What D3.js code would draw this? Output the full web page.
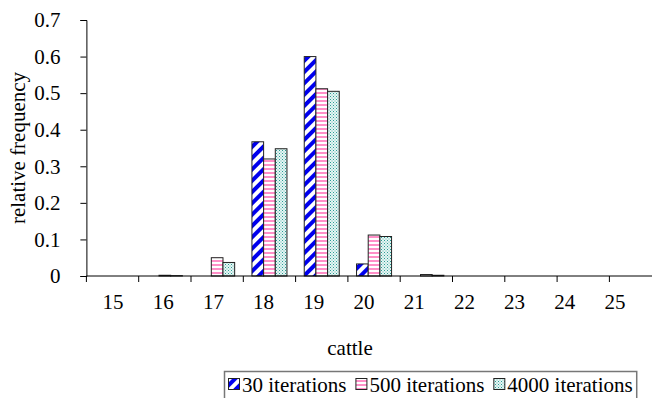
<!DOCTYPE html>
<html>
<head>
<meta charset="utf-8">
<script src="https://cdn.jsdelivr.net/npm/d3@7"></script>
<style>
  html, body { margin: 0; padding: 0; background: #fff; }
  svg { display: block; }
  text { font-family: "Liberation Serif", "DejaVu Serif", serif; }
</style>
</head>
<body>
<svg id="chart" width="652" height="398"></svg>
<script>
// Number of cattle and relative frequency per run length
const categories = ["15", "16", "17", "18", "19", "20", "21", "22", "23", "24", "25"];
const seriesNames = ["30 iterations", "500 iterations", "4000 iterations"];
const iter30   = [0, 0, 0, 0.367, 0.600, 0.033, 0, 0, 0, 0, 0];
const iter500  = [0, 0.002, 0.050, 0.320, 0.512, 0.112, 0.004, 0, 0, 0, 0];
const iter4000 = [0, 0.001, 0.037, 0.348, 0.505, 0.108, 0.002, 0, 0, 0, 0];
const yTicks = [0, 0.1, 0.2, 0.3, 0.4, 0.5, 0.6, 0.7];

const seriesValues = [iter30, iter500, iter4000];
const fills = ["url(#pat30)", "url(#pat500)", "url(#pat4000)"];
const FS = 21;

const svg = d3.select("#chart");
const plotLeft = 86.4, step = 52.3;

// Category bands for the bars and tick marks; label positions on their own point scale
const x = d3.scaleBand().domain(categories).range([plotLeft, plotLeft + step * categories.length]).padding(0);
const xLabel = d3.scalePoint().domain(categories).range([113, 615]);
const xs = d3.scaleBand().domain(d3.range(3)).range([0, x.bandwidth()]).paddingInner(0).paddingOuter(0.74);
const y = d3.scaleLinear().domain([0, 0.7]).range([276, 20]);

// Fill patterns
const defs = svg.append("defs");
const p30 = defs.append("pattern").attr("id", "pat30").attr("patternUnits", "userSpaceOnUse")
  .attr("width", 8).attr("height", 8).attr("patternTransform", "rotate(45)");
p30.append("rect").attr("width", 8).attr("height", 8).attr("fill", "#fff");
p30.append("rect").attr("width", 4).attr("height", 8).attr("fill", "#0000ee");

const p500 = defs.append("pattern").attr("id", "pat500").attr("patternUnits", "userSpaceOnUse")
  .attr("width", 4).attr("height", 4);
p500.append("rect").attr("width", 4).attr("height", 4).attr("fill", "#fff");
p500.append("rect").attr("width", 4).attr("height", 2).attr("fill", "#ff8fc8");

const p4000 = defs.append("pattern").attr("id", "pat4000").attr("patternUnits", "userSpaceOnUse")
  .attr("width", 3).attr("height", 3);
p4000.append("rect").attr("width", 3).attr("height", 3).attr("fill", "#e6f5f3");
p4000.append("rect").attr("x", 0).attr("y", 0).attr("width", 1).attr("height", 1).attr("fill", "#2a9c94");
p4000.append("rect").attr("x", 1.5).attr("y", 1.5).attr("width", 1).attr("height", 1).attr("fill", "#5fb8b0");

// Bars
seriesValues.forEach((vals, si) => {
  svg.append("g").selectAll("rect")
    .data(vals.map((v, i) => ({ cat: categories[i], v })).filter(d => d.v > 0))
    .join("rect")
    .attr("x", d => x(d.cat) + xs(si))
    .attr("y", d => y(d.v))
    .attr("width", xs.bandwidth())
    .attr("height", d => y(0) - y(d.v))
    .attr("fill", fills[si])
    .attr("stroke", "#222")
    .attr("stroke-width", 1);
});

// Y axis
const yAxis = svg.append("g").attr("transform", `translate(${plotLeft},0)`)
  .call(d3.axisLeft(y).tickValues(yTicks).tickSize(6).tickPadding(20).tickFormat(d => d === 0 ? "0" : d3.format(".1f")(d)));
yAxis.attr("font-family", null);
yAxis.select(".domain").attr("stroke", "#000");
yAxis.selectAll(".tick line").attr("stroke", "#000");
yAxis.selectAll("text").attr("font-size", FS).attr("fill", "#000");

// X axis: ticks on category boundaries
const xAxisG = svg.append("g").attr("transform", `translate(0,${y(0)})`);
const bounds = categories.map(c => x(c)).concat([x.range()[1]]);
xAxisG.append("line").attr("x1", plotLeft).attr("x2", x.range()[1]).attr("stroke", "#000");
xAxisG.selectAll("line.tk").data(bounds).join("line").attr("class", "tk")
  .attr("x1", d => d).attr("x2", d => d).attr("y1", 0).attr("y2", 6).attr("stroke", "#000");
xAxisG.selectAll("text").data(categories).join("text")
  .attr("x", d => xLabel(d)).attr("y", 33)
  .attr("text-anchor", "middle").attr("font-size", FS).attr("fill", "#000").text(d => d);

// Axis titles
svg.append("text").attr("x", 350).attr("y", 355).attr("text-anchor", "middle")
  .attr("font-size", FS).attr("fill", "#000").text("cattle");
svg.append("text").attr("transform", `translate(25,148) rotate(-90)`).attr("text-anchor", "middle")
  .attr("font-size", FS).attr("fill", "#000").text("relative frequency");

// Legend
const lg = svg.append("g");
const box = lg.append("rect").attr("fill", "#fff").attr("stroke", "#777").attr("stroke-width", 1.5);
let cx = 228;
seriesNames.forEach((name, i) => {
  lg.append("rect").attr("x", cx + 0.5).attr("y", 378.5).attr("width", 11).attr("height", 11)
    .attr("fill", fills[i]).attr("stroke", "#222");
  const t = lg.append("text").attr("x", cx + 14).attr("y", 392).attr("font-size", FS)
    .attr("fill", "#000").text(name);
  cx += 14 + t.node().getComputedTextLength() + 9;
});
box.attr("x", 224.5).attr("y", 371.5).attr("width", cx - 9 + 4 - 224.5).attr("height", 30);
</script>
</body>
</html>
